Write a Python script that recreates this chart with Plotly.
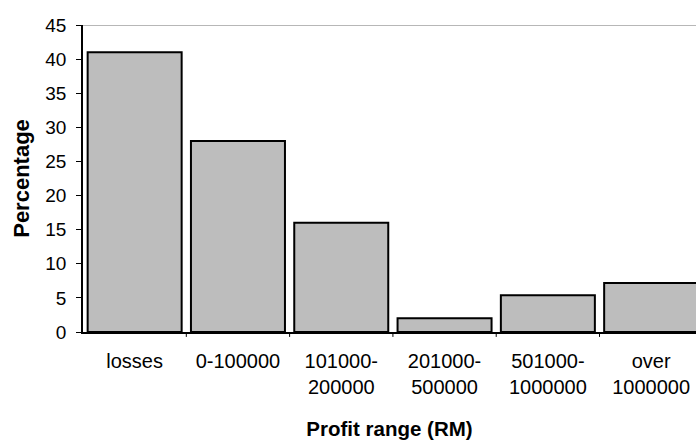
import plotly.graph_objects as go

# Profit ranges (RM) and share of respondents in each (%)
categories = ["losses", "0-100000", "101000-<br>200000", "201000-<br>500000",
              "501000-<br>1000000", "over<br>1000000"]
percentages = [41, 28, 16, 2, 5.4, 7.2]
y_ticks = [0, 5, 10, 15, 20, 25, 30, 35, 40, 45]

FONT = "Liberation Sans, Arial, sans-serif"

fig = go.Figure(
    go.Bar(
        x=list(range(len(categories))),
        y=percentages,
        marker=dict(color="#bdbdbd", line=dict(color="black", width=2)),
        width=0.91,
    )
)

fig.update_layout(
    width=696,
    height=441,
    margin=dict(l=83, r=0, t=25, b=109),
    paper_bgcolor="white",
    plot_bgcolor="white",
    showlegend=False,
    font=dict(family=FONT, size=20, color="black"),
)

fig.update_xaxes(
    tickmode="array",
    tickvals=list(range(len(categories))),
    ticktext=categories,
    range=[-0.5, 5.434],
    showline=True,
    linecolor="black",
    linewidth=1.5,
    ticks="",
    showgrid=False,
    zeroline=False,
    tickfont=dict(family=FONT, size=20),
    ticklabelstandoff=10,
    title=dict(text="<b>Profit range (RM)</b>", font=dict(family=FONT, size=20.5), standoff=25),
)

# category separator ticks on the x axis
for k in range(1, len(categories)):
    fig.add_shape(type="line", xref="x", yref="paper", x0=k - 0.5, x1=k - 0.5,
                  y0=0, y1=-0.016, line=dict(color="black", width=1))

fig.update_yaxes(
    range=[0, 45],
    tickvals=y_ticks,
    showline=True,
    linecolor="black",
    linewidth=1.5,
    ticks="outside",
    ticklen=5,
    tickcolor="black",
    showgrid=False,
    zeroline=False,
    tickfont=dict(family=FONT, size=19),
    ticklabelstandoff=6,
    title=dict(text="<b>Percentage</b>", font=dict(family=FONT, size=22), standoff=10),
)

# top border line of the plot area at 45
fig.add_shape(type="line", xref="paper", yref="y", x0=0, x1=1, y0=45, y1=45,
              line=dict(color="#707070", width=1))

fig.write_html("out.html")
